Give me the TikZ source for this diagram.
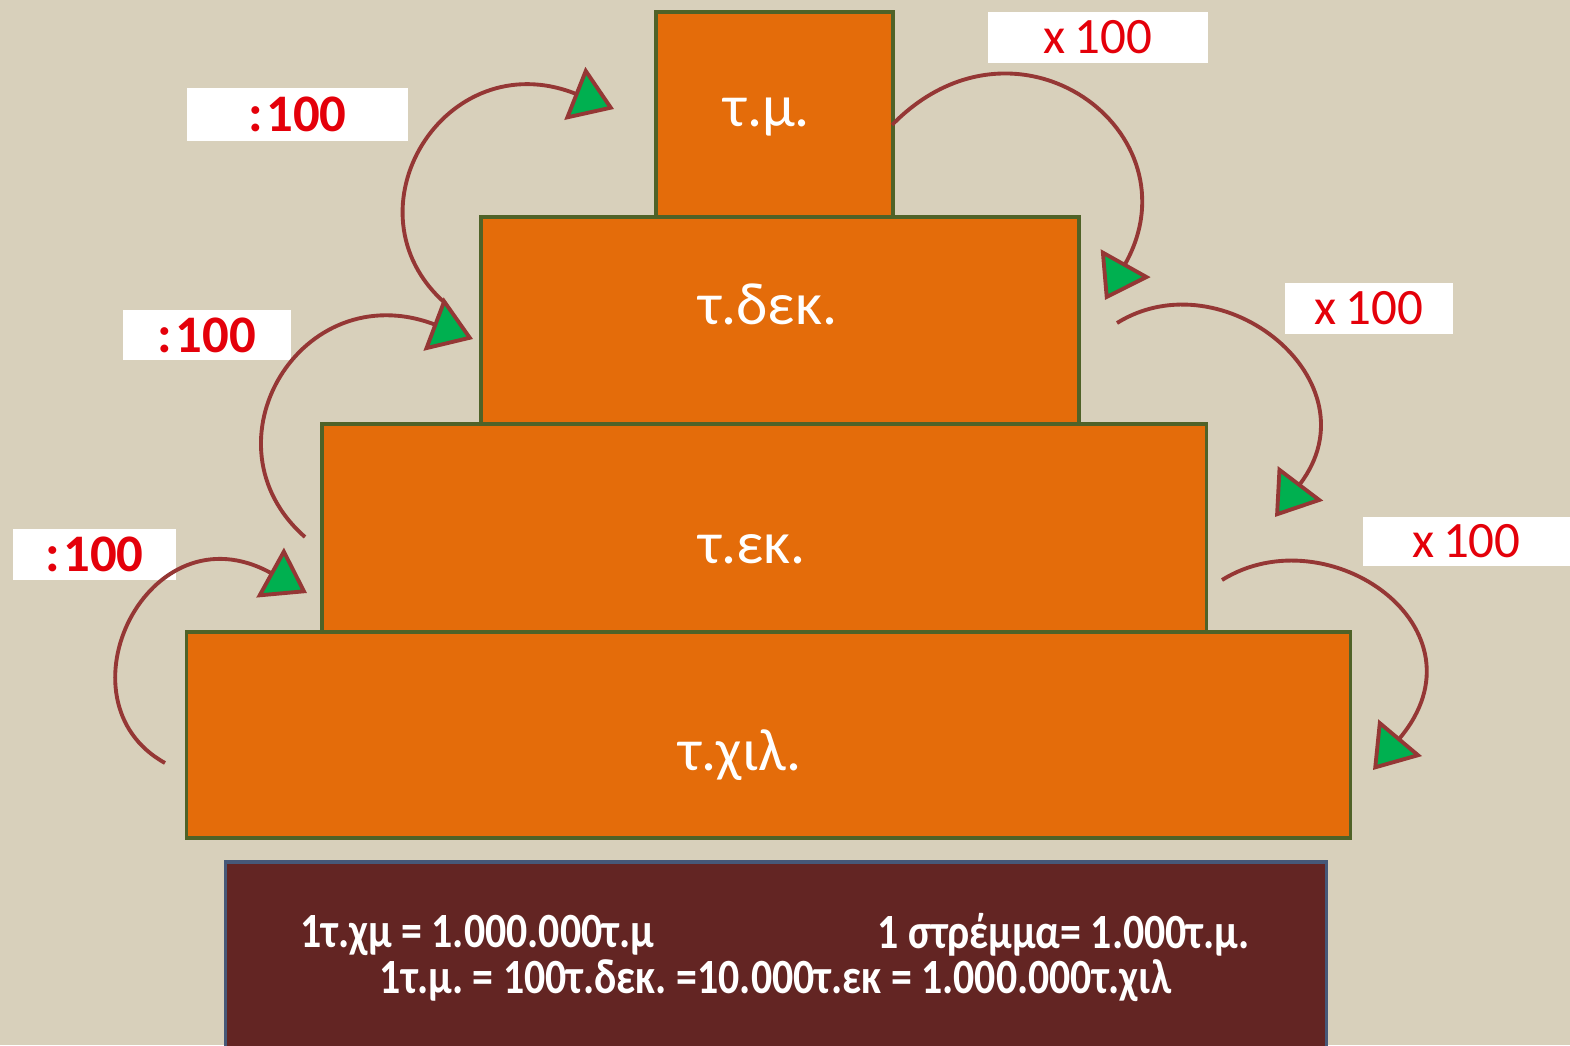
\documentclass[tikz,border=0pt]{standalone}
\usepackage{fontspec}
\setmainfont{Carlito}
\newfontfamily\infofont[FakeStretch=0.85]{Carlito}
\usepackage{tikz}
\usetikzlibrary{arrows.meta}
\definecolor{bgbeige}{RGB}{216,208,187}
\definecolor{tierorange}{RGB}{228,108,10}
\definecolor{tierborder}{RGB}{79,98,40}
\definecolor{arrowred}{RGB}{149,55,53}
\definecolor{headgreen}{RGB}{0,176,80}
\definecolor{labelred}{RGB}{228,0,10}
\definecolor{infofill}{RGB}{99,37,35}
\definecolor{infoborder}{RGB}{70,88,120}

\begin{document}
\frenchspacing
\begin{tikzpicture}[x=0.01cm, y=0.01cm,
  tierbox/.style={draw=tierborder, line width=1pt, fill=tierorange, inner sep=0pt},
  tiertext/.style={text=white, font=\fontsize{17}{20}\selectfont},
  ratebox/.style={fill=white, inner sep=0pt, text=labelred, font=\fontsize{14.5}{17}\selectfont},
  divbox/.style={ratebox, font=\fontsize{15}{18}\selectfont\bfseries},
  steparrow/.style={draw=arrowred, line width=1.1pt, -{Triangle[length=12pt,width=16pt,fill=headgreen]}},
  infotext/.style={text=white, inner sep=0pt, font=\infofont\fontsize{14}{17}\selectfont\bfseries}]
  \fill[bgbeige] (0,0) rectangle (1570,1045);
  \useasboundingbox (0,0) rectangle (1570,1045);
  \node[tierbox, minimum width=11.63cm, minimum height=2.06cm] (tchil) at (768.5,310) {};
  \node[tierbox, minimum width=8.84cm, minimum height=2.08cm] (tek) at (764,517) {};
  \node[tierbox, minimum width=5.98cm, minimum height=2.07cm] (tdek) at (780,724.5) {};
  \node[tierbox, minimum width=2.37cm, minimum height=2.05cm] (tm) at (774.5,930.5) {};
  \node[tiertext] (tmlabel) at (767,928) {τ.μ.};
  \node[tiertext] (tdeklabel) at (768,741) {τ.δεκ.};
  \node[tiertext] (teklabel) at (752,496) {τ.εκ.};
  \node[tiertext] (tchillabel) at (740,290) {τ.χιλ.};
  \node[draw=infoborder, line width=1pt, fill=infofill, minimum width=11cm, minimum height=1.9cm, inner sep=0pt] (info) at (776,88) {};
  \node[infotext, anchor=west] (infoa) at (300,110) {1τ.χμ = 1.000.000τ.μ};
  \node[infotext, anchor=east] (infob) at (1250,110) {1 στρέμμα= 1.000τ.μ.};
  \node[infotext] (infoc) at (775.5,64) {1τ.μ. = 100τ.δεκ. =10.000τ.εκ = 1.000.000τ.χιλ};
  \node[divbox, minimum width=2.21cm, minimum height=0.53cm] (divtop) at (297.5,930.5) {:\kern1pt100};
  \node[divbox, minimum width=1.68cm, minimum height=0.50cm] (divmid) at (207,710) {:\kern1pt100};
  \node[divbox, minimum width=1.63cm, minimum height=0.51cm] (divlow) at (94.5,490.5) {:\kern1pt100};
  \node[ratebox, minimum width=2.20cm, minimum height=0.51cm] (multop) at (1098,1007.5) {x\,100};
  \node[ratebox, minimum width=1.68cm, minimum height=0.51cm] (mulmid) at (1369,736.5) {x\,100};
  \node[ratebox, minimum width=2.07cm, minimum height=0.49cm] (mullow) at (1466.5,503.5) {x\,100};
  \coordinate (a1s) at (165,282);
  \coordinate (a1t) at (307,452);
  \coordinate (a2s) at (305,508);
  \coordinate (a2t) at (473,706);
  \coordinate (a3s) at (445,742);
  \coordinate (a3t) at (614,936);
  \coordinate (r1s) at (892,920);
  \coordinate (r1t) at (1105,745);
  \coordinate (r2s) at (1117,722);
  \coordinate (r2t) at (1275,528);
  \coordinate (r3s) at (1222,465);
  \coordinate (r3t) at (1373,275);
  \draw[steparrow] (a1s) .. controls +(-112,62) and +(-159,88) .. (a1t);
  \draw[steparrow] (a2s) .. controls +(-106,93) and +(-172,65) .. (a2t);
  \draw[steparrow] (a3s) .. controls +(-104,92) and +(-169,67) .. (a3t);
  \draw[steparrow] (r1s) .. controls +(125,128) and +(94,168) .. (r1t);
  \draw[steparrow] (r2s) .. controls +(106,66) and +(102.7,135.5) .. (r2t);
  \draw[steparrow] (r3s) .. controls +(106,66) and +(119,141.7) .. (r3t);
\end{tikzpicture}
\end{document}
